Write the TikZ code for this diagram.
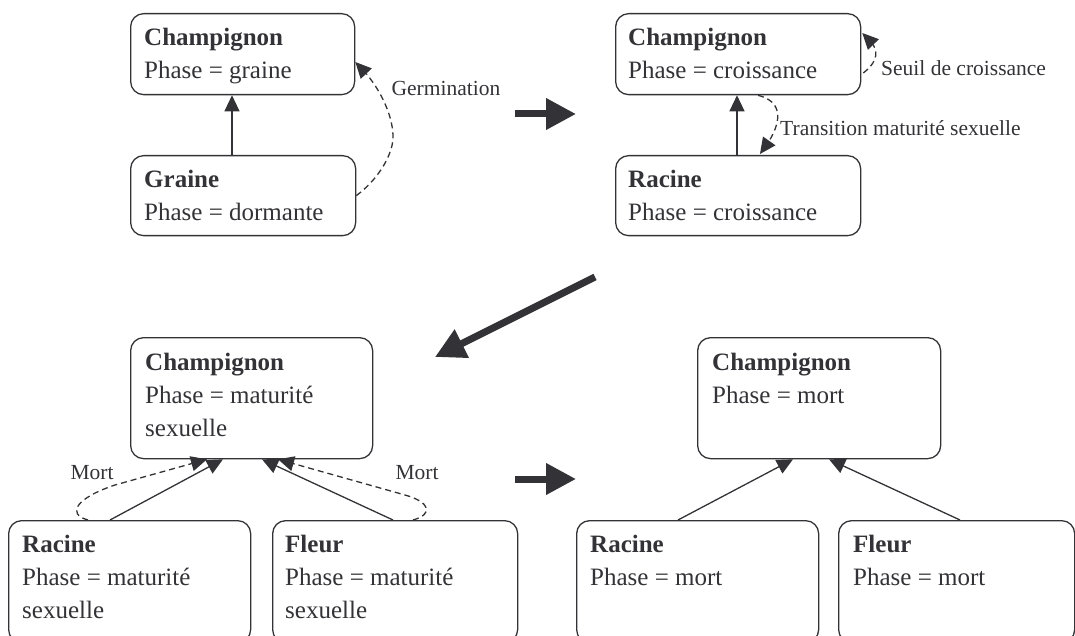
\documentclass[tikz,border=0pt]{standalone}
\usepackage{fontspec}
\setmainfont{Liberation Serif}
\usetikzlibrary{arrows.meta,calc,bending}
\definecolor{ink}{RGB}{51,51,55}
\newcommand{\firstline}{\rule{0pt}{18pt}}
\begin{document}
\begin{tikzpicture}[x=1pt,y=-1pt,
  box/.style={draw=ink, line width=1.3pt, rounded corners=13pt, inner sep=0pt, anchor=north west},
  txt/.style={text=ink, font=\fontsize{25}{33}\selectfont, align=left, inner sep=0pt, anchor=north west},
  lbl/.style={text=ink, font=\fontsize{21.5}{24}\selectfont, inner sep=0pt},
  link/.style={draw=ink, line width=1.3pt, -{Triangle[length=16pt,width=15pt]}},
  dlink/.style={link, dash pattern=on 6pt off 4pt},
  big/.style={draw=ink, line width=7pt, -{Triangle[length=30pt,width=30pt]}}]
\path[use as bounding box] (0,0) rectangle (1075,636);
\clip (0,0) rectangle (1075,636);

% ---------- panel 1 ----------
\node[box, minimum width=224pt, minimum height=81pt] (C1) at (130,13) {};
\node[box, minimum width=225pt, minimum height=80pt] (G) at (130,155) {};
\node[txt] (C1t) at ($(C1.north west)+(14,14)$) {\firstline\textbf{Champignon}\\Phase = graine};
\node[txt] (Gt) at ($(G.north west)+(14,14)$) {\firstline\textbf{Graine}\\Phase = dormante};
\draw[link] ($(G.north west)+(102,0)$) -- ($(C1.south west)+(102,0)$);
\draw[dlink] (G.east) .. controls (380,178) and (394,152) .. (393,135)
  .. controls (392,110) and (375,80) .. ($(C1.north east)+(0,49)$);
\node[lbl] (lg) at (446,88) {Germination};

% ---------- panel 2 ----------
\node[box, minimum width=245pt, minimum height=81pt] (C2) at (615,13) {};
\node[box, minimum width=245pt, minimum height=80pt] (R2) at (615,155) {};
\node[txt] (C2t) at ($(C2.north west)+(13,14)$) {\firstline\textbf{Champignon}\\Phase = croissance};
\node[txt] (R2t) at ($(R2.north west)+(13,14)$) {\firstline\textbf{Racine}\\Phase = croissance};
\draw[link] ($(R2.north west)+(122,0)$) -- ($(C2.south west)+(122,0)$);
\draw[dlink] ($(C2.north east)+(2,60)$) .. controls (876,63) and (884,50) .. ($(C2.north east)+(1,20)$);
\node[lbl, anchor=west] (ls) at (881,68) {Seuil de croissance};
\draw[dlink] ($(C2.south west)+(143,0)$) .. controls (785,102) and (783,125) .. ($(R2.north west)+(145,-1)$);
\node[lbl, anchor=west] (lt) at (780,128) {Transition maturité sexuelle};

% ---------- big arrows ----------
\coordinate (h1a) at (515,114);
\coordinate (h1b) at (576,114);
\coordinate (da) at (595,277);
\coordinate (db) at (435,357);
\coordinate (h2a) at (515,479);
\coordinate (h2b) at (576,479);
\draw[big] (h1a) -- (h1b);
\draw[big] (da) -- (db);
\draw[big] (h2a) -- (h2b);

% ---------- panel 3 ----------
\node[box, minimum width=242pt, minimum height=121pt] (C3) at (130,337) {};
\node[box, minimum width=242pt, minimum height=122pt] (R3) at (8,520) {};
\node[box, minimum width=245pt, minimum height=122pt] (F3) at (272,520) {};
\node[txt] (C3t) at ($(C3.north west)+(15,15)$) {\firstline\textbf{Champignon}\\Phase = maturité\\sexuelle};
\node[txt] (R3t) at ($(R3.north west)+(14,14)$) {\firstline\textbf{Racine}\\Phase = maturité\\sexuelle};
\node[txt] (F3t) at ($(F3.north west)+(13,14)$) {\firstline\textbf{Fleur}\\Phase = maturité\\sexuelle};
\draw[link] ($(R3.north west)+(102,0)$) -- ($(C3.south west)+(93,0)$);
\draw[link] ($(F3.north west)+(121,0)$) -- ($(C3.south west)+(132,0)$);
\draw[dlink] ($(R3.north west)+(80,0)$) .. controls (66,514) and (76,498) .. (115,485) -- ($(C3.south west)+(77,0)$);
\draw[dlink] ($(F3.north west)+(141,0)$) .. controls (434,514) and (430,502) .. (405,495) -- ($(C3.south west)+(148,0)$);
\node[lbl] (lm1) at (92,473) {Mort};
\node[lbl] (lm2) at (417,473) {Mort};

% ---------- panel 4 ----------
\node[box, minimum width=243pt, minimum height=121pt] (C4) at (697,337) {};
\node[box, minimum width=242pt, minimum height=122pt] (R4) at (576,520) {};
\node[box, minimum width=236pt, minimum height=122pt] (F4) at (838,520) {};
\node[txt] (C4t) at ($(C4.north west)+(15,15)$) {\firstline\textbf{Champignon}\\Phase = mort};
\node[txt] (R4t) at ($(R4.north west)+(14,14)$) {\firstline\textbf{Racine}\\Phase = mort};
\node[txt] (F4t) at ($(F4.north west)+(15,14)$) {\firstline\textbf{Fleur}\\Phase = mort};
\draw[link] ($(R4.north west)+(102,0)$) -- ($(C4.south west)+(96,0)$);
\draw[link] ($(F4.north west)+(122,0)$) -- ($(C4.south west)+(132,0)$);
\end{tikzpicture}
\end{document}
